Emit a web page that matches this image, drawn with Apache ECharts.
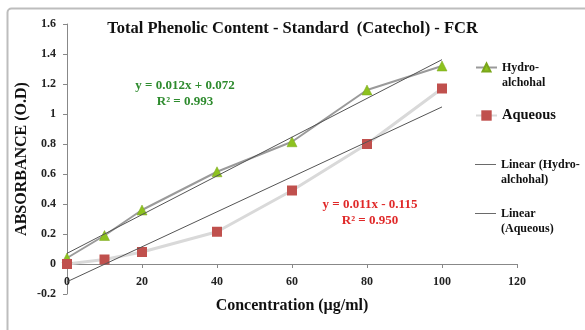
<!DOCTYPE html>
<html>
<head>
<meta charset="utf-8">
<script src="https://cdn.jsdelivr.net/npm/echarts@6/dist/echarts.min.js"></script>
<style>
html,body{margin:0;padding:0;background:#fff;}
#c{width:585px;height:330px;}
</style>
</head>
<body>
<div id="c"></div>
<script>
var concentrations = [0, 10, 20, 40, 60, 80, 100];
var hydroValues = [0.04, 0.19, 0.36, 0.615, 0.815, 1.16, 1.32];
var aqueousValues = [0.0, 0.03, 0.08, 0.215, 0.49, 0.80, 1.17];
var seriesNames = ['Hydro-alchohal', 'Aqueous', 'Linear (Hydro-alchohal)', 'Linear (Aqueous)'];
var legendLabels = ['Hydro-\nalchohal', 'Aqueous', 'Linear (Hydro-\nalchohal)', 'Linear\n(Aqueous)'];
var hydroEquation = ['y = 0.012x + 0.072', 'R\u00b2 = 0.993'];
var aqueousEquation = ['y = 0.011x - 0.115', 'R\u00b2 = 0.950'];
var titleText = 'Total Phenolic Content - Standard  (Catechol) - FCR';
var xAxisName = 'Concentration (\u00b5g/ml)';
var yAxisName = 'ABSORBANCE (O.D)';

function fit(xs, ys) {
  var n = xs.length, mx = 0, my = 0;
  for (var i = 0; i < n; i++) { mx += xs[i]; my += ys[i]; }
  mx /= n; my /= n;
  var sxy = 0, sxx = 0;
  for (var j = 0; j < n; j++) { sxy += (xs[j] - mx) * (ys[j] - my); sxx += (xs[j] - mx) * (xs[j] - mx); }
  var b = sxy / sxx, a = my - b * mx;
  var x0 = xs[0], x1 = xs[n - 1];
  return [[x0, a + b * x0], [x1, a + b * x1]];
}
function pairs(xs, ys) { return xs.map(function (x, i) { return [x, ys[i]]; }); }

var serif = '"Liberation Serif", "DejaVu Serif", serif';
var chart = echarts.init(document.getElementById('c'), null, {renderer: 'canvas'});

function legendAt(idx, top, size, plainLine, iconH) {
  var multi = legendLabels[idx].indexOf('\n') >= 0;
  var item = {name: seriesNames[idx]};
  if (plainLine) { item.icon = 'path://M0,0 L24,0 L24,1 L0,1 Z'; }
  return {
    data: [item],
    left: 470, top: top,
    itemWidth: 21, itemHeight: plainLine ? 1 : iconH, itemGap: 0,
    formatter: function () { return multi ? '\n' + legendLabels[idx] : legendLabels[idx]; },
    selectedMode: false,
    textStyle: {
      fontFamily: serif, fontWeight: 'bold', fontSize: size, color: '#111',
      lineHeight: 15
    }
  };
}

chart.setOption({
  animation: false,
  backgroundColor: '#fff',
  title: {
    text: titleText, left: 'center', top: 15,
    textStyle: {fontFamily: serif, fontWeight: 'bold', fontSize: 16.5, color: '#111'}
  },
  grid: {left: 67, right: 68, top: 24, bottom: 36, containLabel: false, outerBoundsMode: 'none'},
  legend: [
    legendAt(0, 40, 12, false, 10),
    legendAt(1, 103, 14.5, false, 13),
    legendAt(2, 137, 12, true, 1),
    legendAt(3, 186, 12, true, 1)
  ],
  xAxis: {
    type: 'value', min: 0, max: 120, interval: 20,
    name: xAxisName, nameLocation: 'middle', nameGap: 4, nameMoveOverlap: false,
    nameTextStyle: {fontFamily: serif, fontWeight: 'bold', fontSize: 16, color: '#111'},
    axisLine: {onZero: true, lineStyle: {color: '#888'}},
    axisTick: {show: true, length: 4, lineStyle: {color: '#888'}},
    axisLabel: {fontFamily: serif, fontWeight: 'bold', fontSize: 12, color: '#222', margin: -18},
    splitLine: {show: false}
  },
  yAxis: {
    type: 'value', min: -0.2, max: 1.6, interval: 0.2,
    name: yAxisName, nameLocation: 'middle', nameGap: 37, nameMoveOverlap: false,
    nameTextStyle: {fontFamily: serif, fontWeight: 'bold', fontSize: 16, color: '#111'},
    axisLine: {show: true, lineStyle: {color: '#888'}},
    axisTick: {show: true, length: 4, lineStyle: {color: '#888'}},
    axisLabel: {fontFamily: serif, fontWeight: 'bold', fontSize: 12, color: '#222', margin: 11,
      formatter: function (v) { return String(Math.round(v * 10) / 10); }},
    splitLine: {show: false}
  },
  series: [
    {
      name: seriesNames[0], type: 'line', data: pairs(concentrations, hydroValues),
      symbol: 'triangle', symbolSize: 10,
      lineStyle: {color: '#9a9a9a', width: 2},
      itemStyle: {color: '#8dc21f', borderColor: '#7aa61a', borderWidth: 0.5},
      z: 3
    },
    {
      name: seriesNames[1], type: 'line', data: pairs(concentrations, aqueousValues),
      symbol: 'rect', symbolSize: 10,
      lineStyle: {color: '#d9d9d9', width: 3},
      itemStyle: {color: '#c0504d'},
      z: 3
    },
    {
      name: seriesNames[2], type: 'line', data: fit(concentrations, hydroValues),
      symbol: 'none', lineStyle: {color: '#555', width: 1}, itemStyle: {color: '#555'}, z: 4
    },
    {
      name: seriesNames[3], type: 'line', data: fit(concentrations, aqueousValues),
      symbol: 'none', lineStyle: {color: '#555', width: 1}, itemStyle: {color: '#555'}, z: 4
    }
  ],
  graphic: [
    {type: 'rect', left: 5, top: 6, shape: {width: 620, height: 400, r: 4},
      style: {fill: null, stroke: '#bdbdbd', lineWidth: 2}, silent: true, z: -1},
    {type: 'text', x: 185, y: 94, style: {text: hydroEquation.join('\n'), fill: '#2e8b2e',
      font: 'bold 13px ' + serif, align: 'center', verticalAlign: 'middle', lineHeight: 16}, z: 10},
    {type: 'text', x: 370, y: 213, style: {text: aqueousEquation.join('\n'), fill: '#e02828',
      font: 'bold 13px ' + serif, align: 'center', verticalAlign: 'middle', lineHeight: 16}, z: 10}
  ]
});
</script>
</body>
</html>
